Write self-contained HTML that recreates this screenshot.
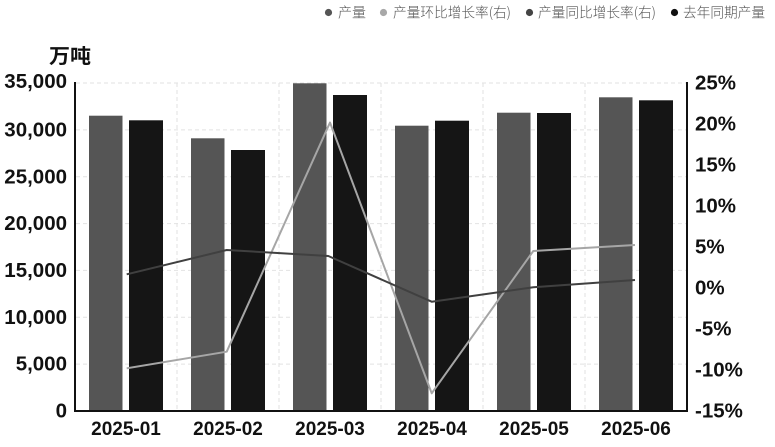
<!DOCTYPE html>
<html><head><meta charset="utf-8"><style>
html,body{margin:0;padding:0;background:#fff;}
svg{display:block;}
text{font-family:"Liberation Sans","Noto Sans CJK SC",sans-serif;}
</style></head><body>
<svg width="775" height="447" viewBox="0 0 775 447" xmlns="http://www.w3.org/2000/svg">
<!-- legend -->
<g font-size="14" fill="#555">
<circle cx="328.5" cy="12.5" r="3.6" fill="#555"/>
<text x="338" y="17.5" textLength="28" lengthAdjust="spacingAndGlyphs" style="font-family:'Noto Sans CJK SC',sans-serif;font-weight:300">产量</text>
<circle cx="383.5" cy="12.5" r="3.6" fill="#a8a8a8"/>
<text x="393" y="17.5" textLength="118" lengthAdjust="spacingAndGlyphs" style="font-family:'Noto Sans CJK SC',sans-serif;font-weight:300">产量环比增长率(右)</text>
<circle cx="529.5" cy="12.5" r="3.6" fill="#444"/>
<text x="538" y="17.5" textLength="118" lengthAdjust="spacingAndGlyphs" style="font-family:'Noto Sans CJK SC',sans-serif;font-weight:300">产量同比增长率(右)</text>
<circle cx="674.5" cy="12.5" r="3.6" fill="#111"/>
<text x="683" y="17.5" textLength="82" lengthAdjust="spacingAndGlyphs" style="font-family:'Noto Sans CJK SC',sans-serif;font-weight:300">去年同期产量</text>
</g>
<!-- unit -->
<text x="49" y="63" font-size="20" font-weight="bold" fill="#111" style="font-family:'Noto Sans CJK SC',sans-serif" textLength="42" lengthAdjust="spacingAndGlyphs">万吨</text>
<!-- grid -->
<g stroke="#e2e2e2" stroke-width="1" stroke-dasharray="4,3">
<line x1="76" y1="83" x2="686" y2="83"/>
<line x1="76" y1="129.9" x2="686" y2="129.9"/>
<line x1="76" y1="176.7" x2="686" y2="176.7"/>
<line x1="76" y1="223.6" x2="686" y2="223.6"/>
<line x1="76" y1="270.4" x2="686" y2="270.4"/>
<line x1="76" y1="317.3" x2="686" y2="317.3"/>
<line x1="76" y1="364.1" x2="686" y2="364.1"/>
<line x1="177" y1="83" x2="177" y2="410"/>
<line x1="279" y1="83" x2="279" y2="410"/>
<line x1="381" y1="83" x2="381" y2="410"/>
<line x1="483" y1="83" x2="483" y2="410"/>
<line x1="585" y1="83" x2="585" y2="410"/>
</g>
<!-- bars -->
<g>
<rect x="89" y="115.7" width="33.5" height="295.3" fill="#555"/>
<rect x="129" y="120.3" width="34" height="290.7" fill="#151515"/>
<rect x="191" y="138.3" width="33.5" height="272.7" fill="#555"/>
<rect x="231" y="150" width="34" height="261" fill="#151515"/>
<rect x="293" y="83.3" width="33.5" height="327.7" fill="#555"/>
<rect x="333" y="95" width="34" height="316" fill="#151515"/>
<rect x="395" y="125.7" width="33.5" height="285.3" fill="#555"/>
<rect x="435" y="120.7" width="34" height="290.3" fill="#151515"/>
<rect x="497" y="112.7" width="33.5" height="298.3" fill="#555"/>
<rect x="537" y="113" width="34" height="298" fill="#151515"/>
<rect x="599" y="97.3" width="33.5" height="313.7" fill="#555"/>
<rect x="639" y="100.3" width="34" height="310.7" fill="#151515"/>
</g>
<!-- lines -->
<polyline fill="none" stroke="#a6a6a6" stroke-width="2" stroke-linejoin="round" points="126.7,368.3 226.7,351.7 330,122.5 431.7,393.3 533.3,251 635,245"/>
<polyline fill="none" stroke="#404040" stroke-width="2" stroke-linejoin="round" points="126.7,274.3 226.7,250 328.3,256 431.7,301.7 533.3,287.3 635,280"/>
<!-- axes -->
<line x1="75" y1="82" x2="75" y2="412" stroke="#111" stroke-width="2"/>
<line x1="687" y1="82" x2="687" y2="412" stroke="#111" stroke-width="2"/>
<line x1="74" y1="411" x2="688" y2="411" stroke="#111" stroke-width="2"/>
<!-- left ticks -->
<g font-size="20.5" font-weight="bold" fill="#111" text-anchor="end">
<text x="67" y="88">35,000</text>
<text x="67" y="136.5">30,000</text>
<text x="67" y="183.3">25,000</text>
<text x="67" y="230.2">20,000</text>
<text x="67" y="277">15,000</text>
<text x="67" y="323.9">10,000</text>
<text x="67" y="370.7">5,000</text>
<text x="67" y="417.5">0</text>
</g>
<!-- right ticks -->
<g font-size="20.5" font-weight="bold" fill="#111">
<text x="695" y="89.5">25%</text>
<text x="695" y="130.5">20%</text>
<text x="695" y="171.5">15%</text>
<text x="695" y="212.5">10%</text>
<text x="695" y="253.5">5%</text>
<text x="695" y="294.5">0%</text>
<text x="695" y="335.5">-5%</text>
<text x="695" y="376.5">-10%</text>
<text x="695" y="417.5">-15%</text>
</g>
<!-- x labels -->
<g font-size="19" font-weight="bold" fill="#111" text-anchor="middle">
<text x="126" y="435">2025-01</text>
<text x="228" y="435">2025-02</text>
<text x="330" y="435">2025-03</text>
<text x="432" y="435">2025-04</text>
<text x="534" y="435">2025-05</text>
<text x="636" y="435">2025-06</text>
</g>
</svg>
</body></html>
